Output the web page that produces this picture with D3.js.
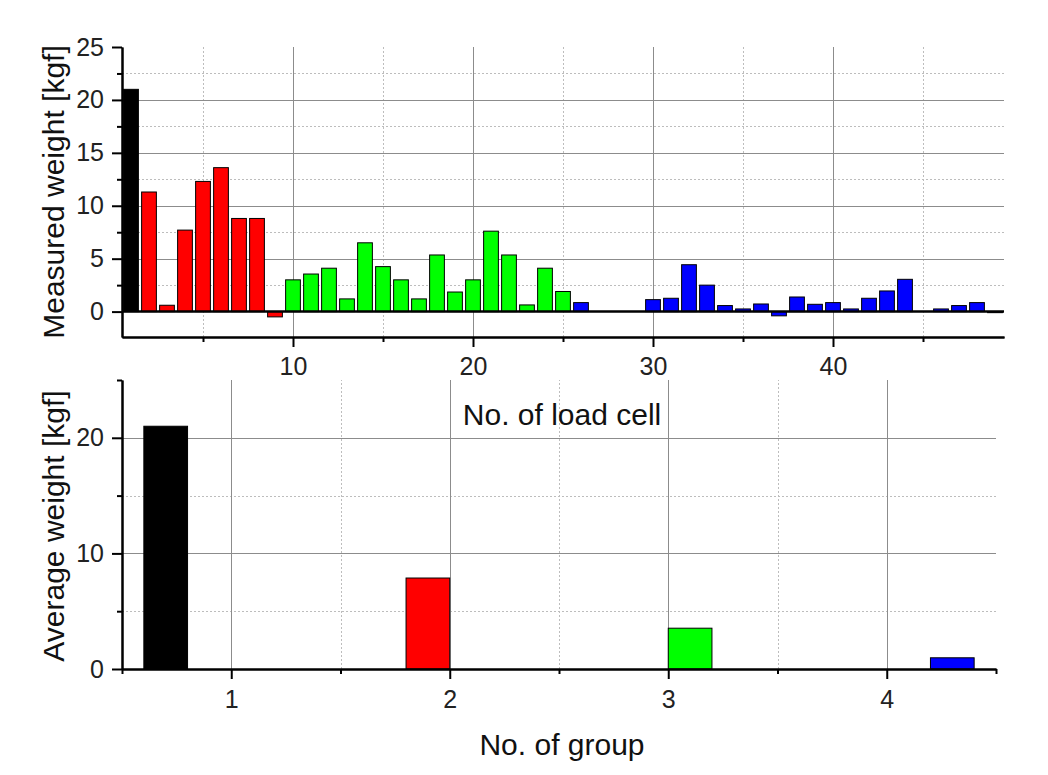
<!DOCTYPE html>
<html>
<head>
<meta charset="utf-8">
<script src="https://cdn.jsdelivr.net/npm/d3@7"></script>
<style>
    body { margin: 0; background: #fff; }
    svg { display: block; font-family: Arial, "Liberation Sans", sans-serif; }
    svg .tick text { font-family: Arial, "Liberation Sans", sans-serif; font-size: 25px; fill: #222; }
</style>
</head>
<body>
<div id="chart"></div>
<script>
// measured weight per load cell, split by group (cells are numbered in order)
var group1Weights = [21.0];
var group2Weights = [11.3, 0.6, 7.7, 12.3, 13.6, 8.8, 8.8, -0.5];
var group3Weights = [3.0, 3.55, 4.1, 1.2, 6.5, 4.25, 3.0, 1.2, 5.35, 1.85, 3.0, 7.6, 5.35, 0.63, 4.1, 1.9];
var group4Weights = [0.85, 0, 0, 0, 1.13, 1.26, 4.43, 2.5, 0.57, 0.25, 0.72, -0.4, 1.38, 0.69,
    0.85, 0.25, 1.26, 1.95, 3.05, 0, 0.25, 0.57, 0.85, -0.1];

// average weight per group
var groupNumbers = [1, 2, 3, 4];
var averageWeights = [21.0, 7.87, 3.53, 0.97];

var groupColors = ['#000000', '#ff0000', '#00ff00', '#0000ff'];

// tick values
var cellMajorTicks = [10, 20, 30, 40];
var cellMinorTicks = [5, 15, 25, 35, 45];
var measuredMajorTicks = [0, 5, 10, 15, 20, 25];
var measuredMinorTicks = [2.5, 7.5, 12.5, 17.5, 22.5];
var groupMajorTicks = [1, 2, 3, 4];
var groupMinorTicks = [0.5, 1.5, 2.5, 3.5, 4.5];
var averageMajorTicks = [0, 10, 20];
var averageMinorTicks = [5, 15, 25];

(function () {
    "use strict";

    var config = {
        width: 1048,
        height: 775,
        top: { left: 122, right: 1004, top: 47, bottom: 337 },
        bottom: { left: 122, right: 996, top: 380, bottom: 669 }
    };

    var svg = d3.select('#chart').append('svg')
        .attr('width', config.width)
        .attr('height', config.height);

    function drawGrid(g, x, y, xMajor, xMinor, yMajor, yMinor) {
        var x0 = x.range()[0], x1 = x.range()[1];
        var y0 = y.range()[0], y1 = y.range()[1];

        g.selectAll('.vminor').data(xMinor).enter().append('line')
            .attr('x1', function (d) { return Math.round(x(d)) + 0.5; })
            .attr('x2', function (d) { return Math.round(x(d)) + 0.5; })
            .attr('y1', y0).attr('y2', y1)
            .attr('stroke', '#bdbdbd').attr('stroke-dasharray', '2,2');
        g.selectAll('.hminor').data(yMinor).enter().append('line')
            .attr('y1', function (d) { return Math.round(y(d)) + 0.5; })
            .attr('y2', function (d) { return Math.round(y(d)) + 0.5; })
            .attr('x1', x0).attr('x2', x1)
            .attr('stroke', '#bdbdbd').attr('stroke-dasharray', '2,2');
        g.selectAll('.vmajor').data(xMajor).enter().append('line')
            .attr('x1', function (d) { return Math.round(x(d)) + 0.5; })
            .attr('x2', function (d) { return Math.round(x(d)) + 0.5; })
            .attr('y1', y0).attr('y2', y1)
            .attr('stroke', '#8c8c8c');
        g.selectAll('.hmajor').data(yMajor).enter().append('line')
            .attr('y1', function (d) { return Math.round(y(d)) + 0.5; })
            .attr('y2', function (d) { return Math.round(y(d)) + 0.5; })
            .attr('x1', x0).attr('x2', x1)
            .attr('stroke', '#8c8c8c');
    }

    function styleAxis(g) {
        g.attr('font-size', null).attr('font-family', null);
        g.selectAll('.domain').attr('stroke', '#000').attr('stroke-width', 2);
        g.selectAll('.tick line').attr('stroke', '#000').attr('stroke-width', 2);
        g.selectAll('.tick text').attr('fill', null);
    }

    function drawAxes(x, y, xMajor, xMinor, yMajor, yMinor, xPad) {
        var xPos = y.range()[0];
        var yPos = x.range()[0];

        svg.append('g')
            .attr('transform', 'translate(0,' + xPos + ')')
            .call(d3.axisBottom(x).tickValues(xMinor).tickSize(5).tickSizeOuter(0).tickFormat(''))
            .call(styleAxis);
        svg.append('g')
            .attr('transform', 'translate(0,' + xPos + ')')
            .call(d3.axisBottom(x).tickValues(xMajor).tickSize(10).tickPadding(xPad)
                .tickSizeOuter(0).tickFormat(d3.format('d')))
            .call(styleAxis);
        svg.append('g')
            .attr('transform', 'translate(' + yPos + ',0)')
            .call(d3.axisLeft(y).tickValues(yMinor).tickSize(5).tickSizeOuter(0).tickFormat(''))
            .call(styleAxis);
        svg.append('g')
            .attr('transform', 'translate(' + yPos + ',0)')
            .call(d3.axisLeft(y).tickValues(yMajor).tickSize(10).tickPadding(8)
                .tickSizeOuter(0).tickFormat(d3.format('d')))
            .call(styleAxis);
    }

    function axisTitle(text, x, y, rotate) {
        svg.append('text')
            .attr('transform', 'translate(' + x + ',' + y + ')' + (rotate ? ' rotate(-90)' : ''))
            .attr('text-anchor', 'middle')
            .attr('fill', '#111')
            .style('font-size', '30px')
            .text(text);
    }

    // ---------- top: measured weight per load cell ----------
    var cells = [];
    [group1Weights, group2Weights, group3Weights, group4Weights].forEach(function (arr, gi) {
        arr.forEach(function (v) {
            cells.push({ cell: cells.length + 1, value: v, group: gi });
        });
    });

    var c = config.top;
    var x1 = d3.scaleLinear().domain([0.5, 49.5]).range([c.left, c.right]);
    var y1 = d3.scaleLinear().domain([-2.4, 25]).range([c.bottom, c.top]);

    var top = svg.append('g');
    drawGrid(top, x1, y1, cellMajorTicks, cellMinorTicks, [5, 10, 15, 20], measuredMinorTicks);

    var barHalf = 0.41;
    top.selectAll('.bar').data(cells).enter().append('rect')
        .attr('x', function (d) { return x1(Math.max(d.cell - barHalf, 0.5)); })
        .attr('width', function (d) { return x1(d.cell + barHalf) - x1(Math.max(d.cell - barHalf, 0.5)); })
        .attr('y', function (d) { return y1(Math.max(d.value, 0)); })
        .attr('height', function (d) { return Math.abs(y1(d.value) - y1(0)); })
        .attr('fill', function (d) { return groupColors[d.group]; })
        .attr('stroke', '#000')
        .attr('stroke-width', 1);

    top.append('line')
        .attr('x1', c.left).attr('x2', c.right)
        .attr('y1', y1(0)).attr('y2', y1(0))
        .attr('stroke', '#000').attr('stroke-width', 2.5);

    drawAxes(x1, y1, cellMajorTicks, cellMinorTicks, measuredMajorTicks, measuredMinorTicks, 10);

    // ---------- bottom: average weight per group ----------
    var b = config.bottom;
    var x2 = d3.scaleLinear().domain([0.5, 4.5]).range([b.left, b.right]);
    var y2 = d3.scaleLinear().domain([0, 25]).range([b.bottom, b.top]);
    // each group is a column series placed at its own slot within the group
    var slot = d3.scaleBand().domain(d3.range(groupNumbers.length)).range([-0.4, 0.4]);

    var bottom = svg.append('g');
    drawGrid(bottom, x2, y2, groupMajorTicks, [1.5, 2.5, 3.5], [10, 20], [5, 15]);

    bottom.selectAll('.bar').data(groupNumbers).enter().append('rect')
        .attr('x', function (d, i) { return x2(d + slot(i)); })
        .attr('width', function (d, i) { return x2(d + slot(i) + slot.bandwidth()) - x2(d + slot(i)); })
        .attr('y', function (d, i) { return y2(averageWeights[i]); })
        .attr('height', function (d, i) { return y2(0) - y2(averageWeights[i]); })
        .attr('fill', function (d, i) { return groupColors[i]; })
        .attr('stroke', '#000')
        .attr('stroke-width', 1);

    drawAxes(x2, y2, groupMajorTicks, groupMinorTicks, averageMajorTicks, averageMinorTicks, 11);

    // titles
    axisTitle('Measured weight [kgf]', 64, 192, true);
    axisTitle('No. of load cell', 562, 425, false);
    axisTitle('Average weight [kgf]', 64, 526, true);
    axisTitle('No. of group', 562, 755, false);
})();
</script>
</body>
</html>
